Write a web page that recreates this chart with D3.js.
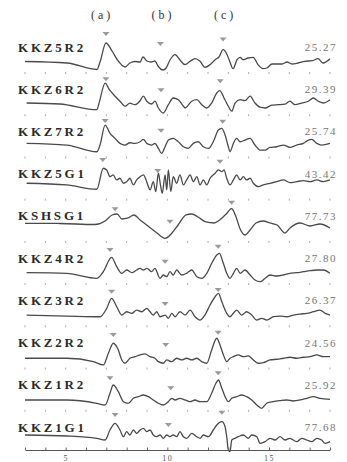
<!DOCTYPE html>
<html>
<head>
<meta charset="utf-8">
<script src="https://cdn.jsdelivr.net/npm/d3@7"></script>
<style>
	body { margin: 0; background: #fff; }
	#chart { width: 347px; height: 462px; }
</style>
</head>
<body>
<div id="chart"></div>
<script>
var stations = ['KKZ5R2', 'KKZ6R2', 'KKZ7R2', 'KKZ5G1', 'KSHSG1', 'KKZ4R2', 'KKZ3R2', 'KKZ2R2', 'KKZ1R2', 'KKZ1G1'];
var maxValues = ['25.27', '29.39', '25.74', '43.42', '77.73', '27.80', '26.37', '24.56', '25.92', '77.68'];
var phaseNames = ['(a)', '(b)', '(c)'];
var phaseTimes = [6.79, 9.79, 12.84];
var tickValues = [3, 4, 5, 6, 7, 8, 9, 10, 11, 12, 13, 14, 15, 16, 17, 18];
var tickLabels = [5, 10, 15];

// [时间, 振幅]
var traceKKZ5R2 = [[3, 0.05], [5.07, -0.1], [6.54, -0.75], [6.69, 0], [6.98, 1.9], [7.28, 1.1], [7.53, 0.25], [7.92, -0.5], [8.16, -0.1], [8.41, 0.05], [8.66, 0], [8.8, 0.5], [9, 0.1], [9.2, 0], [9.39, 0.1], [9.54, -0.4], [9.79, -0.8], [9.94, -0.6], [10.13, 0.2], [10.38, 0.73], [10.62, 0.2], [10.87, -0.27], [11.12, 0.07], [11.36, 0.33], [11.61, 0.07], [11.85, -0.53], [12.1, -0.27], [12.35, 0.23], [12.54, 0.5], [12.74, 1.23], [12.94, 0.73], [13.08, 0], [13.23, -0.67], [13.43, 0.23], [13.58, 0.47], [13.72, 0.23], [13.97, 0.4], [14.22, 0.47], [14.46, -0.27], [14.71, -0.67], [14.9, -0.6], [15.15, -0.2], [15.4, -0.2], [15.64, -0.2], [15.89, 0], [16.13, -0.2], [16.43, -0.1], [16.77, 0.07], [17.12, 0.13], [17.41, 0.33], [17.66, -0.1], [18, 0.33]];
var traceKKZ6R2 = [[3.08, 0.12], [4.72, 0.02], [6.53, -0.55], [6.64, 0.1], [6.94, 2.1], [7.15, 1.45], [7.43, 0.8], [7.67, 0.3], [7.92, -0.2], [8.16, 0.1], [8.41, -0.05], [8.66, 0.35], [8.82, 0.8], [8.99, 0.3], [9.23, 0.02], [9.39, 0.3], [9.56, -0.38], [9.8, -0.88], [10.05, -0.05], [10.29, 0.62], [10.54, 0.45], [10.79, -0.2], [10.87, -0.38], [11.2, 0.3], [11.45, 0.45], [11.69, -0.05], [11.94, -0.38], [12.18, 0.12], [12.43, 1.12], [12.57, 1.35], [12.83, 0.45], [13, -0.2], [13.17, -0.7], [13.33, 0.12], [13.58, 0.45], [13.82, 0.35], [14.07, 0.8], [14.31, 0.12], [14.56, -0.3], [14.81, -0.38], [15.13, -0.1], [15.46, -0.05], [15.79, 0.02], [16.03, 0.3], [16.28, -0.05], [16.61, 0.12], [16.93, 0.3], [17.18, 0.62], [17.43, 0.3], [17.67, 0.12], [18, 0.45]];
var traceKKZ7R2 = [[3.08, 0.31], [5.05, 0.14], [6.53, -0.53], [6.69, 0.14], [6.94, 2.14], [7.18, 1.31], [7.43, 0.81], [7.67, 0.31], [7.92, 0.14], [8.16, 0.37], [8.41, 0.31], [8.66, 0.47], [8.82, 0.71], [8.99, 0.31], [9.23, 0.14], [9.39, 0.31], [9.56, -0.19], [9.72, -0.69], [9.89, -0.03], [10.05, 0.64], [10.29, 0.81], [10.54, 0.47], [10.79, -0.03], [11.03, -0.19], [11.28, 0.31], [11.52, 0.47], [11.77, -0.03], [12.02, -0.19], [12.26, 0.47], [12.51, 1.64], [12.68, 1.81], [12.84, 1.14], [13, -0.03], [13.08, -0.53], [13.25, 0.31], [13.41, 0.81], [13.58, 0.47], [13.82, 0.64], [14.07, 0.81], [14.31, 0.14], [14.56, -0.36], [14.81, -0.36], [15.05, -0.09], [15.38, -0.03], [15.71, 0.14], [16.03, -0.09], [16.36, 0.14], [16.69, 0.31], [16.94, 0.64], [17.1, 0.71], [17.35, 0.31], [17.59, 0.14], [18, 0.31]];
var traceKKZ5G1 = [[3.08, 0.54], [5.05, 0.37], [6.53, -0.06], [6.85, 2.04], [7.02, 1.87], [7.18, 1.2], [7.34, 1.37], [7.51, 0.87], [7.67, 1.04], [7.84, 0.54], [8, 0.7], [8.16, 1.04], [8.33, 0.37], [8.49, 0.87], [8.66, 1.2], [8.82, 1.37], [8.95, 0.9], [9.07, 0.2], [9.15, -0.13], [9.31, 0.7], [9.43, -0.3], [9.56, 1.54], [9.66, 0.4], [9.75, -0.46], [9.89, 1.37], [9.97, -0.13], [10.05, 1.87], [10.17, -0.3], [10.29, 1.2], [10.46, 0.54], [10.62, 1.37], [10.79, 0.37], [10.95, 0.87], [11.12, 1.37], [11.28, 0.7], [11.45, 1.2], [11.61, 0.37], [11.77, 0.87], [11.94, 0.37], [12.1, 1.04], [12.35, 1.54], [12.51, 1.87], [12.68, 1.7], [12.79, 1.87], [12.92, 1.04], [13.08, 0.37], [13.25, 0.87], [13.41, 1.37], [13.58, 0.87], [13.74, 1.2], [13.9, 0.87], [14.07, 1.04], [14.23, 0.54], [14.48, 0.2], [14.72, 0.37], [15.05, 0.54], [15.38, 0.7], [15.71, 0.87], [16.03, 0.6], [16.36, 0.7], [16.69, 0.8], [17.02, 0.7], [17.35, 0.87], [17.67, 0.7], [18, 0.87]];
var traceKSHSG1 = [[3, 0.76], [4.72, 0.74], [6.44, 0.64], [6.94, 0.99], [7.28, 1.59], [7.53, 1.69], [7.77, 1.19], [8.07, 1.29], [8.36, 1.59], [8.66, 1.09], [9.05, 0.49], [9.49, -0.21], [9.89, -0.74], [10.23, -0.21], [10.53, 0.59], [10.92, 1.59], [11.21, 1.69], [11.51, 1.39], [11.9, 0.89], [12.3, 0.79], [12.69, 1.29], [12.94, 1.79], [13.16, 2.24], [13.38, 1.39], [13.58, 0.19], [13.82, -0.41], [14.07, 0.09], [14.36, 0.79], [14.71, 0.99], [15.05, 0.79], [15.4, 0.59], [15.79, -0.21], [16.03, 0.29], [16.53, 0.79], [17.02, 0.49], [17.51, 0.69], [18, 0.29]];
var traceKKZ4R2 = [[3.08, 0.04], [5.05, -0.02], [6.53, -0.52], [6.84, 0.11], [7.26, 1.58], [7.51, 0.64], [7.76, -0.02], [8, 0.31], [8.25, 0.04], [8.49, 0.31], [8.66, 0.48], [8.82, 0.31], [8.99, 0.48], [9.23, 0.14], [9.39, 0.48], [9.64, -0.52], [9.8, -0.19], [9.97, -0.36], [10.13, 0.14], [10.29, -0.19], [10.46, 0.31], [10.71, -0.19], [10.95, -0.02], [11.2, 0.31], [11.45, -0.36], [11.69, -0.52], [11.94, -0.02], [12.18, 0.98], [12.43, 1.81], [12.56, 1.98], [12.73, 1.14], [12.92, -0.02], [13.08, -0.52], [13.25, -0.02], [13.41, 0.48], [13.58, -0.02], [13.82, 0.31], [14.07, -0.19], [14.31, -0.69], [14.56, -0.86], [14.81, -0.52], [15.05, -0.19], [15.38, -0.29], [15.71, -0.19], [16.03, -0.02], [16.36, 0.04], [16.69, 0.14], [17.02, 0.24], [17.35, 0.31], [17.67, 0.31], [18, -0.02]];
var traceKKZ3R2 = [[3.08, 0.03], [5.05, -0.07], [6.69, -0.14], [7.02, 0.7], [7.26, 1.7], [7.51, 0.86], [7.76, 0.03], [8, 0.36], [8.25, 0.2], [8.49, 0.53], [8.74, 0.36], [8.99, 0.7], [9.15, 0.36], [9.31, 0.03], [9.48, 0.36], [9.64, -0.14], [9.89, 0.03], [10.05, -0.3], [10.22, 0.2], [10.38, -0.14], [10.62, 0.36], [10.87, 0.03], [11.12, 0.53], [11.36, -0.14], [11.61, -0.47], [11.85, 0.03], [12.1, 1.03], [12.35, 1.86], [12.51, 2.2], [12.68, 1.36], [12.92, 0.2], [13.08, -0.14], [13.25, 0.2], [13.41, 0.53], [13.66, 0.03], [13.9, 0.36], [14.15, 0.03], [14.4, -0.47], [14.64, -0.3], [14.89, -0.47], [15.22, -0.14], [15.54, -0.07], [15.87, -0.14], [16.2, 0.03], [16.53, 0.13], [16.86, 0.2], [17.18, 0.36], [17.51, 0.53], [17.76, 0.2], [18, 0.03]];
var traceKKZ2R2 = [[3, -0.07], [5.05, -0.07], [6.36, -0.41], [6.85, -0.74], [7.1, 0.43], [7.34, 1.43], [7.59, 0.76], [7.76, -0.24], [7.92, -0.57], [8.16, -0.07], [8.41, 0.09], [8.66, 0.26], [8.9, 0.36], [9.15, 0.09], [9.39, -0.07], [9.56, -0.41], [9.8, -0.57], [9.97, -0.24], [10.21, -0.41], [10.46, -0.07], [10.71, -0.24], [10.95, -0.07], [11.2, -0.24], [11.45, -0.07], [11.69, -0.41], [11.94, -0.57], [12.18, 0.76], [12.43, 1.93], [12.59, 1.26], [12.76, 0.26], [12.92, -0.41], [13.08, -0.07], [13.25, 0.09], [13.49, 0.26], [13.74, 0.09], [13.98, 0.16], [14.23, -0.24], [14.48, -0.57], [14.72, -0.51], [15.05, -0.24], [15.38, -0.17], [15.71, -0.07], [16.03, 0.03], [16.36, -0.07], [16.69, 0.03], [17.02, 0.09], [17.35, 0.26], [17.67, 0.09], [18, 0.09]];
var traceKKZ1R2 = [[3, -0.02], [5.05, -0.02], [6.53, -0.35], [6.94, -0.52], [7.18, 0.65], [7.34, 1.48], [7.59, 0.81], [7.84, -0.19], [8.08, -0.35], [8.33, 0.15], [8.57, 0.31], [8.82, 0.48], [9.07, 0.31], [9.31, -0.02], [9.56, -0.35], [9.8, -0.52], [10.05, -0.19], [10.22, 0.15], [10.38, -0.02], [10.62, 0.15], [10.87, -0.02], [11.12, -0.19], [11.36, -0.02], [11.61, -0.19], [11.94, -0.19], [12.18, 0.65], [12.39, 1.65], [12.51, 1.98], [12.68, 1.15], [12.84, 0.31], [13, -0.19], [13.17, 0.15], [13.41, 0.31], [13.66, 0.48], [13.9, 0.31], [14.15, -0.02], [14.4, -0.52], [14.64, -0.85], [14.89, -0.35], [15.21, -0.19], [15.54, -0.09], [15.87, -0.02], [16.2, -0.12], [16.53, -0.02], [16.86, 0.15], [17.18, 0.31], [17.51, 0.15], [18, 0.05]];
var traceKKZ1G1 = [[3, 0.7], [5.05, 0.6], [6.53, 0.37], [6.94, 0.2], [7.18, 1.2], [7.43, 1.87], [7.67, 1.2], [7.84, 0.53], [8, 1.03], [8.16, 0.7], [8.33, 1.2], [8.49, 0.87], [8.66, 1.2], [8.82, 1.37], [8.99, 1.03], [9.15, 1.2], [9.31, 0.7], [9.48, 0.53], [9.64, 0.7], [9.8, 0.37], [9.97, 0.7], [10.13, 0.53], [10.29, 0.7], [10.46, 0.53], [10.62, 1.03], [10.79, 0.53], [10.95, 0.37], [11.2, 0.87], [11.45, 0.53], [11.61, 0.37], [11.77, 0.7], [12.02, 0.53], [12.26, 1.2], [12.43, 1.7], [12.68, 2.03], [12.84, 1.53], [12.92, 0.53], [13, -0.8], [13.08, -0.97], [13.17, 0.2], [13.33, 0.37], [13.49, 0.53], [13.74, 0.7], [13.98, 0.37], [14.15, 0.7], [14.4, 0.53], [14.56, -0.13], [14.81, 0.03], [15.05, 0.37], [15.3, 0.2], [15.54, 0.53], [15.79, 0.2], [16.03, 0.37], [16.36, 0.03], [16.61, 0.37], [16.86, 0.2], [17.1, 0.03], [17.35, 0.37], [17.59, 0.2], [17.76, -0.13], [18, 0.03]];
var traces = [traceKKZ5R2, traceKKZ6R2, traceKKZ7R2, traceKKZ5G1, traceKSHSG1, traceKKZ4R2, traceKKZ3R2, traceKKZ2R2, traceKKZ1R2, traceKKZ1G1];

// 三个震相标记 [时间, 振幅]
var phaseA = [[6.98, 2.8], [6.98, 2.5], [6.94, 2.54], [6.82, 2.87], [7.43, 2.16], [7.18, 2.31], [7.26, 2.36], [7.34, 2.26], [7.18, 2.15], [7.43, 2.7]];
var phaseB = [[9.66, 1.8], [9.69, 1.4], [9.69, 1.57], [9.53, 1.77], [10.13, 0.92], [9.89, 1.14], [9.89, 1.13], [9.92, 1.26], [10.17, 1.15], [10.05, 1.7]];
var phaseC = [[12.74, 2.25], [12.6, 2.3], [12.72, 2.47], [12.59, 2.7], [13.16, 2.82], [12.5, 2.64], [12.5, 2.53], [12.5, 2.49], [12.5, 2.65], [12.68, 2.93]];

var chart_width = 347,
	chart_height = 462;
var serif = '"Liberation Serif", "DejaVu Serif", serif';

function drawChart(divName) {
	let svg = d3.select('#' + divName).append('svg')
		.attr('width', chart_width)
		.attr('height', chart_height);

	let xScale = d3.scaleLinear()
		.domain([3, 18])
		.range([25, 330]);
	// 每个台站一行
	let rowScale = d3.scalePoint()
		.domain(stations)
		.range([47, 427]);
	let ampScale = d3.scaleLinear()
		.domain([0, 1])
		.range([15, 5]);

	let yOf = (name, v) => rowScale(name) + ampScale(v);

	// 顶部震相名
	svg.append('g')
		.selectAll('text')
		.data(phaseNames)
		.enter()
		.append('text')
		.attr('x', (d, i) => xScale(phaseTimes[i]))
		.attr('y', 19)
		.attr('text-anchor', 'middle')
		.style('font-family', serif)
		.style('font-size', '12px')
		.style('letter-spacing', '3px')
		.style('fill', '#333')
		.text(String);

	// 每行下的刻度点
	let dotRows = svg.append('g')
		.selectAll('g')
		.data(stations.slice(0, stations.length - 1))
		.enter()
		.append('g')
		.attr('transform', d => 'translate(0,' + (rowScale(d) + 26) + ')');
	dotRows.selectAll('line')
		.data(tickValues)
		.enter()
		.append('line')
		.attr('x1', d => xScale(d))
		.attr('x2', d => xScale(d))
		.attr('y1', -1)
		.attr('y2', 1)
		.style('stroke', '#aaa')
		.style('stroke-width', 1);

	let line = d3.line()
		.curve(d3.curveMonotoneX)
		.x(d => xScale(d[0]));

	svg.append('g')
		.selectAll('path')
		.data(traces)
		.enter()
		.append('path')
		.attr('d', (d, i) => line.y(p => yOf(stations[i], p[1]))(d))
		.style('fill', 'none')
		.style('stroke', '#4a4a4a')
		.style('stroke-width', 1.3)
		.style('stroke-linejoin', 'round');

	// 台站名
	svg.append('g')
		.selectAll('text')
		.data(stations)
		.enter()
		.append('text')
		.attr('x', 18)
		.attr('y', d => rowScale(d) + 4.5)
		.style('font-family', serif)
		.style('font-weight', 'bold')
		.style('font-size', '13px')
		.style('letter-spacing', '2.8px')
		.style('fill', '#2a2a2a')
		.text(String);

	svg.append('g')
		.selectAll('text')
		.data(maxValues)
		.enter()
		.append('text')
		.attr('x', 337)
		.attr('y', (d, i) => rowScale(stations[i]) + 4)
		.attr('text-anchor', 'end')
		.style('font-family', serif)
		.style('font-size', '11px')
		.style('letter-spacing', '1.5px')
		.style('fill', '#777')
		.text(String);

	let marks = [];
	[phaseA, phaseB, phaseC].forEach(p => {
		p.forEach((m, i) => marks.push({ name: stations[i], t: m[0], v: m[1] }));
	});
	svg.append('g')
		.selectAll('path')
		.data(marks)
		.enter()
		.append('path')
		.attr('transform', d => 'translate(' + xScale(d.t) + ',' + yOf(d.name, d.v) + ')')
		.attr('d', 'M-3.5,-2L3.5,-2L0,2Z')
		.style('fill', '#9a9a9a');

	let axis = svg.append('g')
		.attr('transform', 'translate(0,450)')
		.call(d3.axisBottom(xScale)
			.tickValues(tickValues)
			.tickSize(-2.5)
			.tickSizeOuter(0)
			.tickPadding(5)
			.tickFormat(d => tickLabels.indexOf(d) == -1 ? '' : d));
	axis.select('.domain').style('stroke', '#555');
	axis.selectAll('.tick line').style('stroke', '#666');
	axis.selectAll('text')
		.style('font-family', serif)
		.style('font-size', '8px')
		.style('letter-spacing', '1.5px')
		.style('fill', '#555');
}

drawChart('chart');
</script>
</body>
</html>
